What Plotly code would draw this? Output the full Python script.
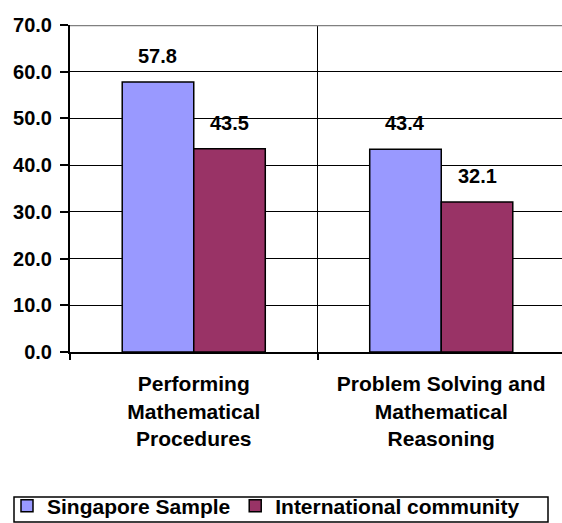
import plotly.graph_objects as go

# Chart data
categories = ["Performing<br>Mathematical<br>Procedures",
              "Problem Solving and<br>Mathematical<br>Reasoning"]
series_names = ["Singapore Sample", "International community"]
singapore = [57.8, 43.4]
international = [43.5, 32.1]
y_ticks = [0, 10, 20, 30, 40, 50, 60, 70]

FONT = "Liberation Sans, Arial, sans-serif"
BLUE = "#9999FF"
PLUM = "#993366"

W, H = 562, 523
M_L, M_R, M_T, M_B = 70, 0, 25, 171
plot_w, plot_h = W - M_L - M_R, H - M_T - M_B


def px_x(px):
    """pixel column -> paper x"""
    return (px - M_L) / plot_w


def px_y(px):
    """pixel row -> paper y"""
    return (H - M_B - px) / plot_h


bar_w = 0.289                      # width of one bar in category units
cat_pos = list(range(len(categories)))

fig = go.Figure()
for vals, name, color, sign in [(singapore, series_names[0], BLUE, -1),
                                (international, series_names[1], PLUM, 1)]:
    xs = [c + sign * bar_w / 2 for c in cat_pos]
    fig.add_trace(go.Bar(
        x=xs, y=vals, width=bar_w, name=name,
        marker=dict(color=color, line=dict(color="black", width=1.5)),
    ))
    # value labels above each bar
    for x, v in zip(xs, vals):
        fig.add_annotation(
            x=x, y=v, text=f"{v:.1f}", showarrow=False,
            yanchor="bottom", yshift=13,
            font=dict(family=FONT, size=20, color="black", weight=700),
        )

# top border line of the plot area
fig.add_shape(type="line", xref="paper", x0=0, x1=1, yref="y", y0=70, y1=70,
              line=dict(color="#808080", width=2.5), layer="above")

# frame around the legend
fig.add_shape(type="rect", xref="paper", yref="paper",
              x0=px_x(14), x1=px_x(548), y0=px_y(522), y1=px_y(497),
              line=dict(color="black", width=1.5), fillcolor="rgba(0,0,0,0)",
              layer="above")

fig.update_layout(
    width=W, height=H,
    margin=dict(l=M_L, r=M_R, t=M_T, b=M_B, autoexpand=False),
    paper_bgcolor="white", plot_bgcolor="white",
    barmode="overlay",
    font=dict(family=FONT, color="black"),
    showlegend=True,
    legend=dict(
        orientation="h",
        x=px_x(7), xanchor="left",
        y=px_y(506), yanchor="middle",
        borderwidth=0, bgcolor="rgba(0,0,0,0)",
        font=dict(family=FONT, size=21, color="black", weight=700),
        traceorder="normal",
    ),
    xaxis=dict(
        range=[-0.5, 1.5 - 3 / 247.5],
        tickmode="array", tickvals=cat_pos, ticktext=categories,
        ticks="", ticklen=0,
        tickfont=dict(family=FONT, size=21, color="black", weight=700),
        ticklabelstandoff=12,
        showgrid=False, zeroline=False,
        showline=True, linecolor="black", linewidth=2,
        minor=dict(tickmode="array", tickvals=[-0.5, 0.5],
                   ticks="outside", ticklen=6, tickwidth=1.5, tickcolor="black",
                   showgrid=True, gridcolor="black", gridwidth=1),
    ),
    yaxis=dict(
        range=[0, 70],
        tickmode="array", tickvals=y_ticks,
        ticktext=[f"{t:.1f}" for t in y_ticks],
        ticks="outside", ticklen=8, tickwidth=1.5, tickcolor="black",
        tickfont=dict(family=FONT, size=20, color="black", weight=700),
        ticklabelstandoff=4,
        showgrid=True, gridcolor="black", gridwidth=1,
        zeroline=False,
        showline=True, linecolor="black", linewidth=2,
    ),
)

fig.write_html("out.html")
